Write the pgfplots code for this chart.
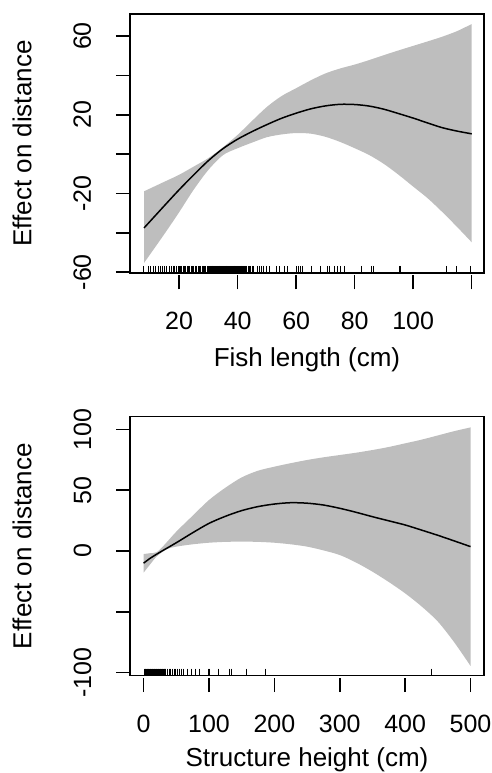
\documentclass[border=0pt]{standalone}
\usepackage{pgfplots}
\pgfplotsset{compat=1.18}
\usepgfplotslibrary{fillbetween}
\usepackage{fontspec}
\setmainfont{Liberation Sans}
\definecolor{bandgray}{RGB}{190,190,190}
\begin{document}
\begin{tikzpicture}
\path (0pt,0pt) rectangle (492pt,773pt);
\pgfplotsset{
  rstyle/.style={
    scale only axis, width=354pt, height=259pt,
    axis line style={line width=1.5pt},
    tick align=outside,
    major tick length=14pt,
    xtick pos=bottom, ytick pos=left,
    xtick style={line width=1.5pt, black, yshift=-2.5pt},
    ytick style={line width=1.5pt, black},
    minor tick num=0,
    tick label style={font=\fontsize{25}{29}\selectfont, inner sep=0pt},
    label style={font=\fontsize{26}{30}\selectfont, inner sep=0pt},
    /pgf/number format/assume math mode=true,
    yticklabel style={xshift=-25pt, rotate=90, anchor=base},
    xticklabel style={anchor=base, yshift=-42.5pt},
    ylabel style={at={(axis description cs:-0.305,0.5)}, anchor=center},
    xlabel style={anchor=base},
  },
  rug/.style={only marks, mark=|, mark size=3.5pt, mark options={line width=0.7pt, black}},
}
% top panel
\begin{axis}[rstyle, at={(130pt,500pt)}, anchor=south west,
  xmin=3.2, xmax=124.2, ymin=-60.4, ymax=71.2,
  xtick={20,40,60,80,100,120}, xticklabels={20,40,60,80,100,},
  ytick={-60,-40,-20,0,20,40,60}, yticklabels={-60,,-20,,20,,60},
  xlabel={Fish length (cm)}, ylabel={Effect on distance},
  xlabel style={at={(axis description cs:0.5,-0.362)}},
]
\addplot[name path=up, draw=none, smooth] coordinates {(8,-18.9) (15,-14) (20,-10.5) (25,-6.3) (30,-2.0) (35,3.5) (40,9.8) (45,17.0) (50,24.0) (55,29.5) (60,33.5) (65,37.5) (70,41) (75,43.5) (80,45.5) (85,47.8) (90,50.3) (95,52.7) (100,55) (105,57.3) (110,59.7) (115,62.5) (120,66.1)};
\addplot[name path=lo, draw=none, smooth] coordinates {(8,-55.3) (15,-40.5) (20,-29.5) (25,-18) (30,-8) (35,-0.5) (40,3.0) (45,5.9) (50,8.6) (55,10.0) (60,10.7) (65,10.4) (70,8.8) (75,6.2) (80,3.0) (85,-0.5) (90,-5.0) (95,-10.5) (100,-16.5) (105,-22.5) (110,-29.5) (115,-37) (120,-44.8)};
\addplot[bandgray, draw=none] fill between[of=up and lo];
\addplot[black, line width=1.5pt, smooth] coordinates {(8,-37.5) (12,-31) (16,-24.5) (20,-18.1) (25,-10.5) (30,-3.3) (35,2.8) (40,7.6) (45,11.5) (50,15.0) (55,18.2) (60,20.8) (65,23.0) (70,24.5) (75,25.3) (80,25.2) (85,24.4) (90,22.8) (95,20.6) (100,18.3) (105,15.8) (110,13.4) (115,11.7) (120,10.3)};
\addplot[rug] coordinates {
(7.9,-58.62) (9.4,-58.62) (10.2,-58.62) (11.1,-58.62) (12.0,-58.62) (12.8,-58.62) (13.6,-58.62) (14.3,-58.62) (15.0,-58.62) (15.7,-58.62) (16.6,-58.62) (17.4,-58.62) (17.9,-58.62) (18.5,-58.62) (19.1,-58.62) (19.7,-58.62) (20.0,-58.62) (20.4,-58.62) (20.9,-58.62) (21.3,-58.62) (21.8,-58.62) (22.2,-58.62) (22.7,-58.62) (23.1,-58.62) (23.6,-58.62) (24.0,-58.62) (24.5,-58.62) (25.0,-58.62) (25.5,-58.62) (26.0,-58.62) (26.4,-58.62) (26.9,-58.62) (27.3,-58.62) (27.8,-58.62) (28.2,-58.62) (28.7,-58.62) (29.1,-58.62) (29.6,-58.62) (30.0,-58.62) (30.3,-58.62) (30.6,-58.62) (30.9,-58.62) (31.2,-58.62) (31.5,-58.62) (31.8,-58.62) (32.1,-58.62) (32.4,-58.62) (32.7,-58.62) (33.0,-58.62) (33.3,-58.62) (33.6,-58.62) (33.9,-58.62) (34.2,-58.62) (34.5,-58.62) (34.8,-58.62) (35.1,-58.62) (35.4,-58.62) (35.7,-58.62) (36.0,-58.62) (36.3,-58.62) (36.6,-58.62) (36.9,-58.62) (37.2,-58.62) (37.5,-58.62) (37.8,-58.62) (38.1,-58.62) (38.4,-58.62) (38.7,-58.62) (39.0,-58.62) (39.3,-58.62) (39.6,-58.62) (39.9,-58.62) (40.2,-58.62) (40.5,-58.62) (40.8,-58.62) (41.1,-58.62) (41.4,-58.62) (41.7,-58.62) (42.0,-58.62) (42.3,-58.62) (42.6,-58.62) (43.0,-58.62) (43.5,-58.62) (44.0,-58.62) (44.4,-58.62) (45.0,-58.62) (45.3,-58.62) (46.7,-58.62) (47.4,-58.62) (48.1,-58.62) (48.7,-58.62) (49.9,-58.62) (51.0,-58.62) (53.3,-58.62) (54.2,-58.62) (56.1,-58.62) (56.9,-58.62) (60.1,-58.62) (60.7,-58.62) (61.3,-58.62) (62.2,-58.62) (65.2,-58.62) (68.1,-58.62) (70.6,-58.62) (71.5,-58.62) (72.9,-58.62) (74.0,-58.62) (75.2,-58.62) (76.6,-58.62) (82.3,-58.62) (85.8,-58.62) (86.3,-58.62) (95.2,-58.62) (95.7,-58.62) (111.2,-58.62) (114.8,-58.62) (119.6,-58.62)};
\end{axis}
% bottom panel
\begin{axis}[rstyle, at={(130pt,97.3pt)}, anchor=south west,
  xmin=-20.8, xmax=520.6, ymin=-102.5, ymax=110.4,
  xtick={0,100,200,300,400,500},
  ytick={-100,-50,0,50,100}, yticklabels={-100,,0,50,100},
  xlabel={Structure height (cm)}, ylabel={Effect on distance},
  xlabel style={at={(axis description cs:0.5,-0.351)}},
]
\addplot[name path=up2, draw=none, smooth] coordinates {(0,-2.5) (10,-1.8) (20,-1) (30,4) (50,15.9) (75,29) (100,41.9) (125,52) (150,60.5) (175,66) (200,69.3) (225,72.2) (250,74.8) (275,77) (300,78.9) (325,80.8) (350,83) (375,85.5) (400,88.5) (425,91.5) (450,95) (475,98.5) (500,101.6)};
\addplot[name path=lo2, draw=none, smooth] coordinates {(0,-17.8) (10,-11) (20,-4.5) (35,1.4) (50,3.6) (75,5.5) (100,6.8) (125,7.5) (150,7.7) (175,7.5) (200,6.8) (225,5.5) (250,3.6) (275,0.5) (300,-3.3) (325,-9.5) (350,-17) (375,-25.5) (400,-34.8) (425,-45.5) (450,-58) (475,-75) (500,-94.5)};
\addplot[bandgray, draw=none] fill between[of=up2 and lo2];
\addplot[black, line width=1.5pt, smooth] coordinates {(0,-10) (10,-6) (25,-1) (50,6.8) (75,15) (100,22.7) (125,28.5) (150,33.2) (175,36.5) (200,38.6) (225,39.7) (250,39.3) (275,37.8) (300,35.1) (325,31.8) (350,28.2) (375,24.8) (400,21.4) (425,17.2) (450,12.9) (475,8.3) (500,3.6)};
\addplot[rug] coordinates {
(1,-99.6) (2,-99.6) (3,-99.6) (4,-99.6) (5,-99.6) (6,-99.6) (7,-99.6) (8,-99.6) (9,-99.6) (10,-99.6) (11,-99.6) (12,-99.6) (13,-99.6) (14,-99.6) (15,-99.6) (16,-99.6) (17,-99.6) (18,-99.6) (19,-99.6) (20,-99.6) (21,-99.6) (22,-99.6) (23,-99.6) (24,-99.6) (25,-99.6) (26,-99.6) (27,-99.6) (28,-99.6) (29,-99.6) (30,-99.6) (31,-99.6) (32,-99.6) (33,-99.6) (34,-99.6) (35.7,-99.6) (38.8,-99.6) (40.8,-99.6) (43.9,-99.6) (46.4,-99.6) (49.0,-99.6) (51.5,-99.6) (54.1,-99.6) (57.6,-99.6) (61.2,-99.6) (66.3,-99.6) (72.9,-99.6) (79.6,-99.6) (85.7,-99.6) (98.5,-99.6) (101.0,-99.6) (113.8,-99.6) (131.6,-99.6) (134.2,-99.6) (157.2,-99.6) (186.8,-99.6) (440.4,-99.6)};
\end{axis}
\end{tikzpicture}
\end{document}
